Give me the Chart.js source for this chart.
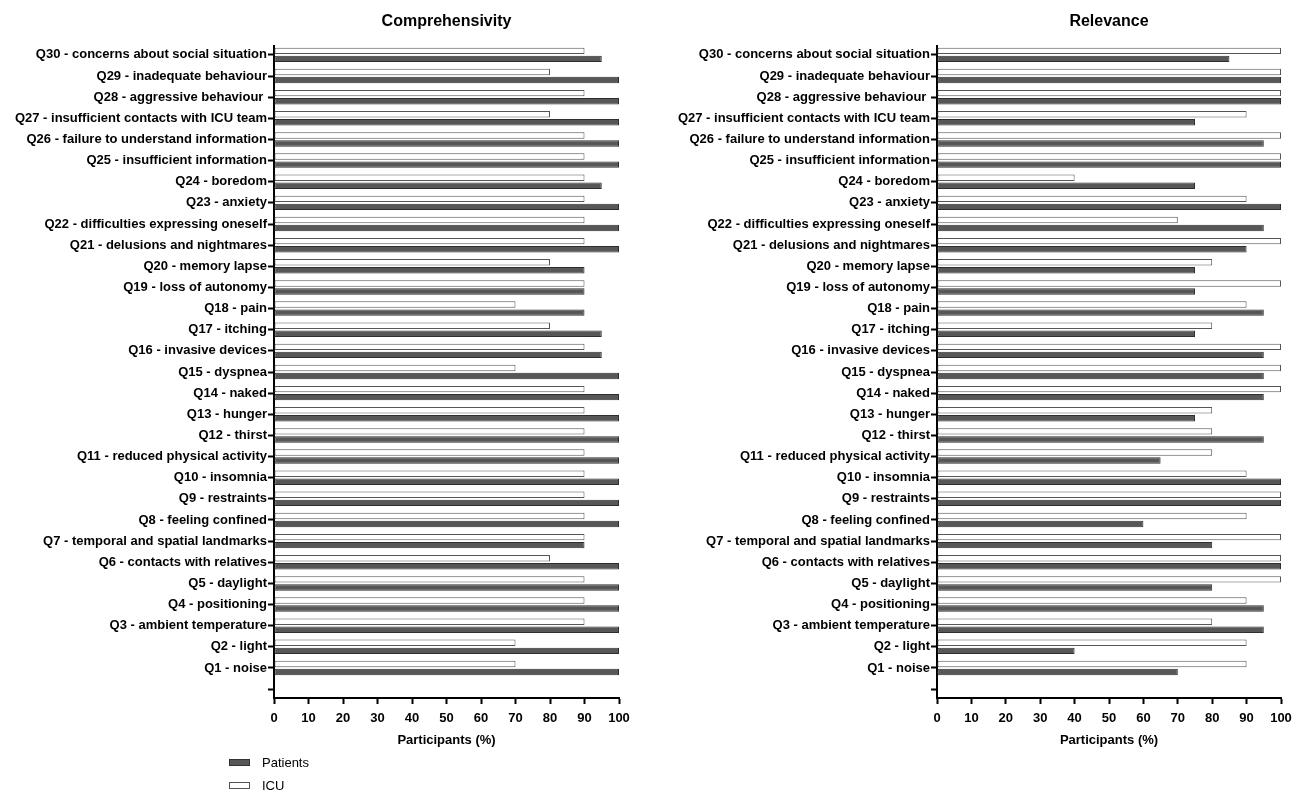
<!DOCTYPE html>
<html><head><meta charset="utf-8">
<script src="https://cdn.jsdelivr.net/npm/chart.js@4.4.1/dist/chart.umd.min.js"></script>
<style>
html,body{margin:0;padding:0;background:#fff;width:1292px;height:793px;overflow:hidden;font-family:'Liberation Sans',Arial,sans-serif;}
.wrap{position:absolute;top:0;height:760px;}
#w1{left:0;width:640px;}
#w2{left:645px;width:647px;}
.lbox{position:absolute;width:19px;height:5px;border:1px solid #333;}
.ltxt{position:absolute;font-size:13px;color:#000;line-height:16px;}
</style></head>
<body>
<div class="wrap" id="w1"><canvas id="c1" width="640" height="760"></canvas></div>
<div class="wrap" id="w2"><canvas id="c2" width="647" height="760"></canvas></div>
<div class="lbox" style="left:229px;top:759px;background:#575757;"></div>
<div class="ltxt" style="left:262px;top:755px;">Patients</div>
<div class="lbox" style="left:229px;top:782px;background:#fff;border-color:#555;"></div>
<div class="ltxt" style="left:262px;top:778px;">ICU</div>
<script>
const questions = [
 'Q1 - noise','Q2 - light','Q3 - ambient temperature','Q4 - positioning','Q5 - daylight',
 'Q6 - contacts with relatives','Q7 - temporal and spatial landmarks','Q8 - feeling confined','Q9 - restraints','Q10 - insomnia',
 'Q11 - reduced physical activity','Q12 - thirst','Q13 - hunger','Q14 - naked','Q15 - dyspnea',
 'Q16 - invasive devices','Q17 - itching','Q18 - pain','Q19 - loss of autonomy','Q20 - memory lapse',
 'Q21 - delusions and nightmares','Q22 - difficulties expressing oneself','Q23 - anxiety','Q24 - boredom','Q25 - insufficient information',
 'Q26 - failure to understand information','Q27 - insufficient contacts with ICU team','Q28 - aggressive behaviour ','Q29 - inadequate behaviour','Q30 - concerns about social situation'
];
// values listed Q1 ... Q30
const compPatients = [100,100,100,100,100,100,90,100,100,100,100,100,100,100,100,95,95,90,90,90,100,100,100,95,100,100,100,100,100,95];
const compICU      = [70,70,90,90,90,80,90,90,90,90,90,90,90,90,70,90,80,70,90,80,90,90,90,90,90,90,80,90,80,90];
const relPatients  = [70,40,95,95,80,100,80,60,100,100,65,95,75,95,95,95,75,95,75,75,90,95,100,75,100,95,75,100,100,85];
const relICU       = [90,90,80,90,100,100,100,90,100,90,80,80,80,100,100,100,80,90,100,80,100,70,90,40,100,100,90,100,100,100];
const xTicks = [0,10,20,30,40,50,60,70,80,90,100];
const seriesNames = ['Patients','ICU'];
const titles = ['Comprehensivity','Relevance'];
const xTitle = 'Participants (%)';

const FONT = "'Liberation Sans', Arial, sans-serif";
// top-to-bottom order: Q30 ... Q1, then an empty category
const labelsTB = questions.slice().reverse().concat(['']);
const tb = arr => arr.slice().reverse().concat([null]);

const titlePlugin = {
  id: 'areaTitle',
  afterDraw(chart, args, opts) {
    const {ctx, chartArea} = chart;
    ctx.save();
    ctx.font = 'bold 16px ' + FONT;
    ctx.fillStyle = '#000';
    ctx.textAlign = 'center';
    ctx.textBaseline = 'middle';
    ctx.fillText(opts.text, (chartArea.left + chartArea.right) / 2, 22);
    ctx.restore();
  }
};

// smaller end gap than a half category (as in the reference)
const END_GAP = 0.42;
function patchCategory(s) {
  if (s._endPatched) return;
  const orig = s.configure.bind(s);
  s.configure = function () {
    orig();
    const n = this.getLabels().length;
    this._startValue = -END_GAP;
    this._valueRange = (n - 1) + 2 * END_GAP;
  };
  s._endPatched = true;
}

function makeChart(id, title, pat, icu, yWidth, padRight) {
  return new Chart(document.getElementById(id), {
    type: 'bar',
    data: {
      labels: labelsTB,
      datasets: [
        {label: seriesNames[1], data: tb(icu), backgroundColor: '#ffffff', borderColor: '#555555', borderWidth: 1, borderSkipped: false},
        {label: seriesNames[0], data: tb(pat), backgroundColor: '#575757', borderColor: '#2e2e2e', borderWidth: 1, borderSkipped: false}
      ]
    },
    plugins: [titlePlugin],
    options: {
      indexAxis: 'y',
      responsive: false,
      animation: false,
      categoryPercentage: 0.76,
      barPercentage: 0.8,
      layout: {padding: {top: 46, right: padRight, left: 0, bottom: 0}},
      plugins: {
        legend: {display: false},
        tooltip: {enabled: false},
        areaTitle: {text: title}
      },
      scales: {
        x: {
          type: 'linear', min: 0, max: 100,
          afterBuildTicks: s => { s.ticks = xTicks.map(v => ({value: v})); },
          afterFit: s => { s.height = 62; s.paddingLeft = 0; s.paddingRight = 0; },
          grid: {drawOnChartArea: false, tickLength: 6, tickWidth: 2, tickColor: '#000'},
          border: {display: true, width: 2, color: '#000'},
          ticks: {color: '#000', font: {family: FONT, size: 13, weight: 'bold'}, padding: 7, maxRotation: 0},
          title: {display: true, text: xTitle, color: '#000', font: {family: FONT, size: 13, weight: 'bold'}, padding: {top: 2, bottom: 12}}
        },
        y: {
          type: 'category',
          offset: true,
          afterFit: s => { s.width = yWidth; s.paddingTop = 0; s.paddingBottom = 0; patchCategory(s); },
          grid: {offset: false, drawOnChartArea: false, tickLength: 6, tickWidth: 2, tickColor: '#000'},
          border: {display: true, width: 2, color: '#000'},
          ticks: {color: '#000', font: {family: FONT, size: 13, weight: 'bold'}, padding: 1, autoSkip: false}
        }
      }
    }
  });
}
makeChart('c1', titles[0], compPatients, compICU, 274, 21);
makeChart('c2', titles[1], relPatients, relICU, 292, 11);
</script>
</body></html>
